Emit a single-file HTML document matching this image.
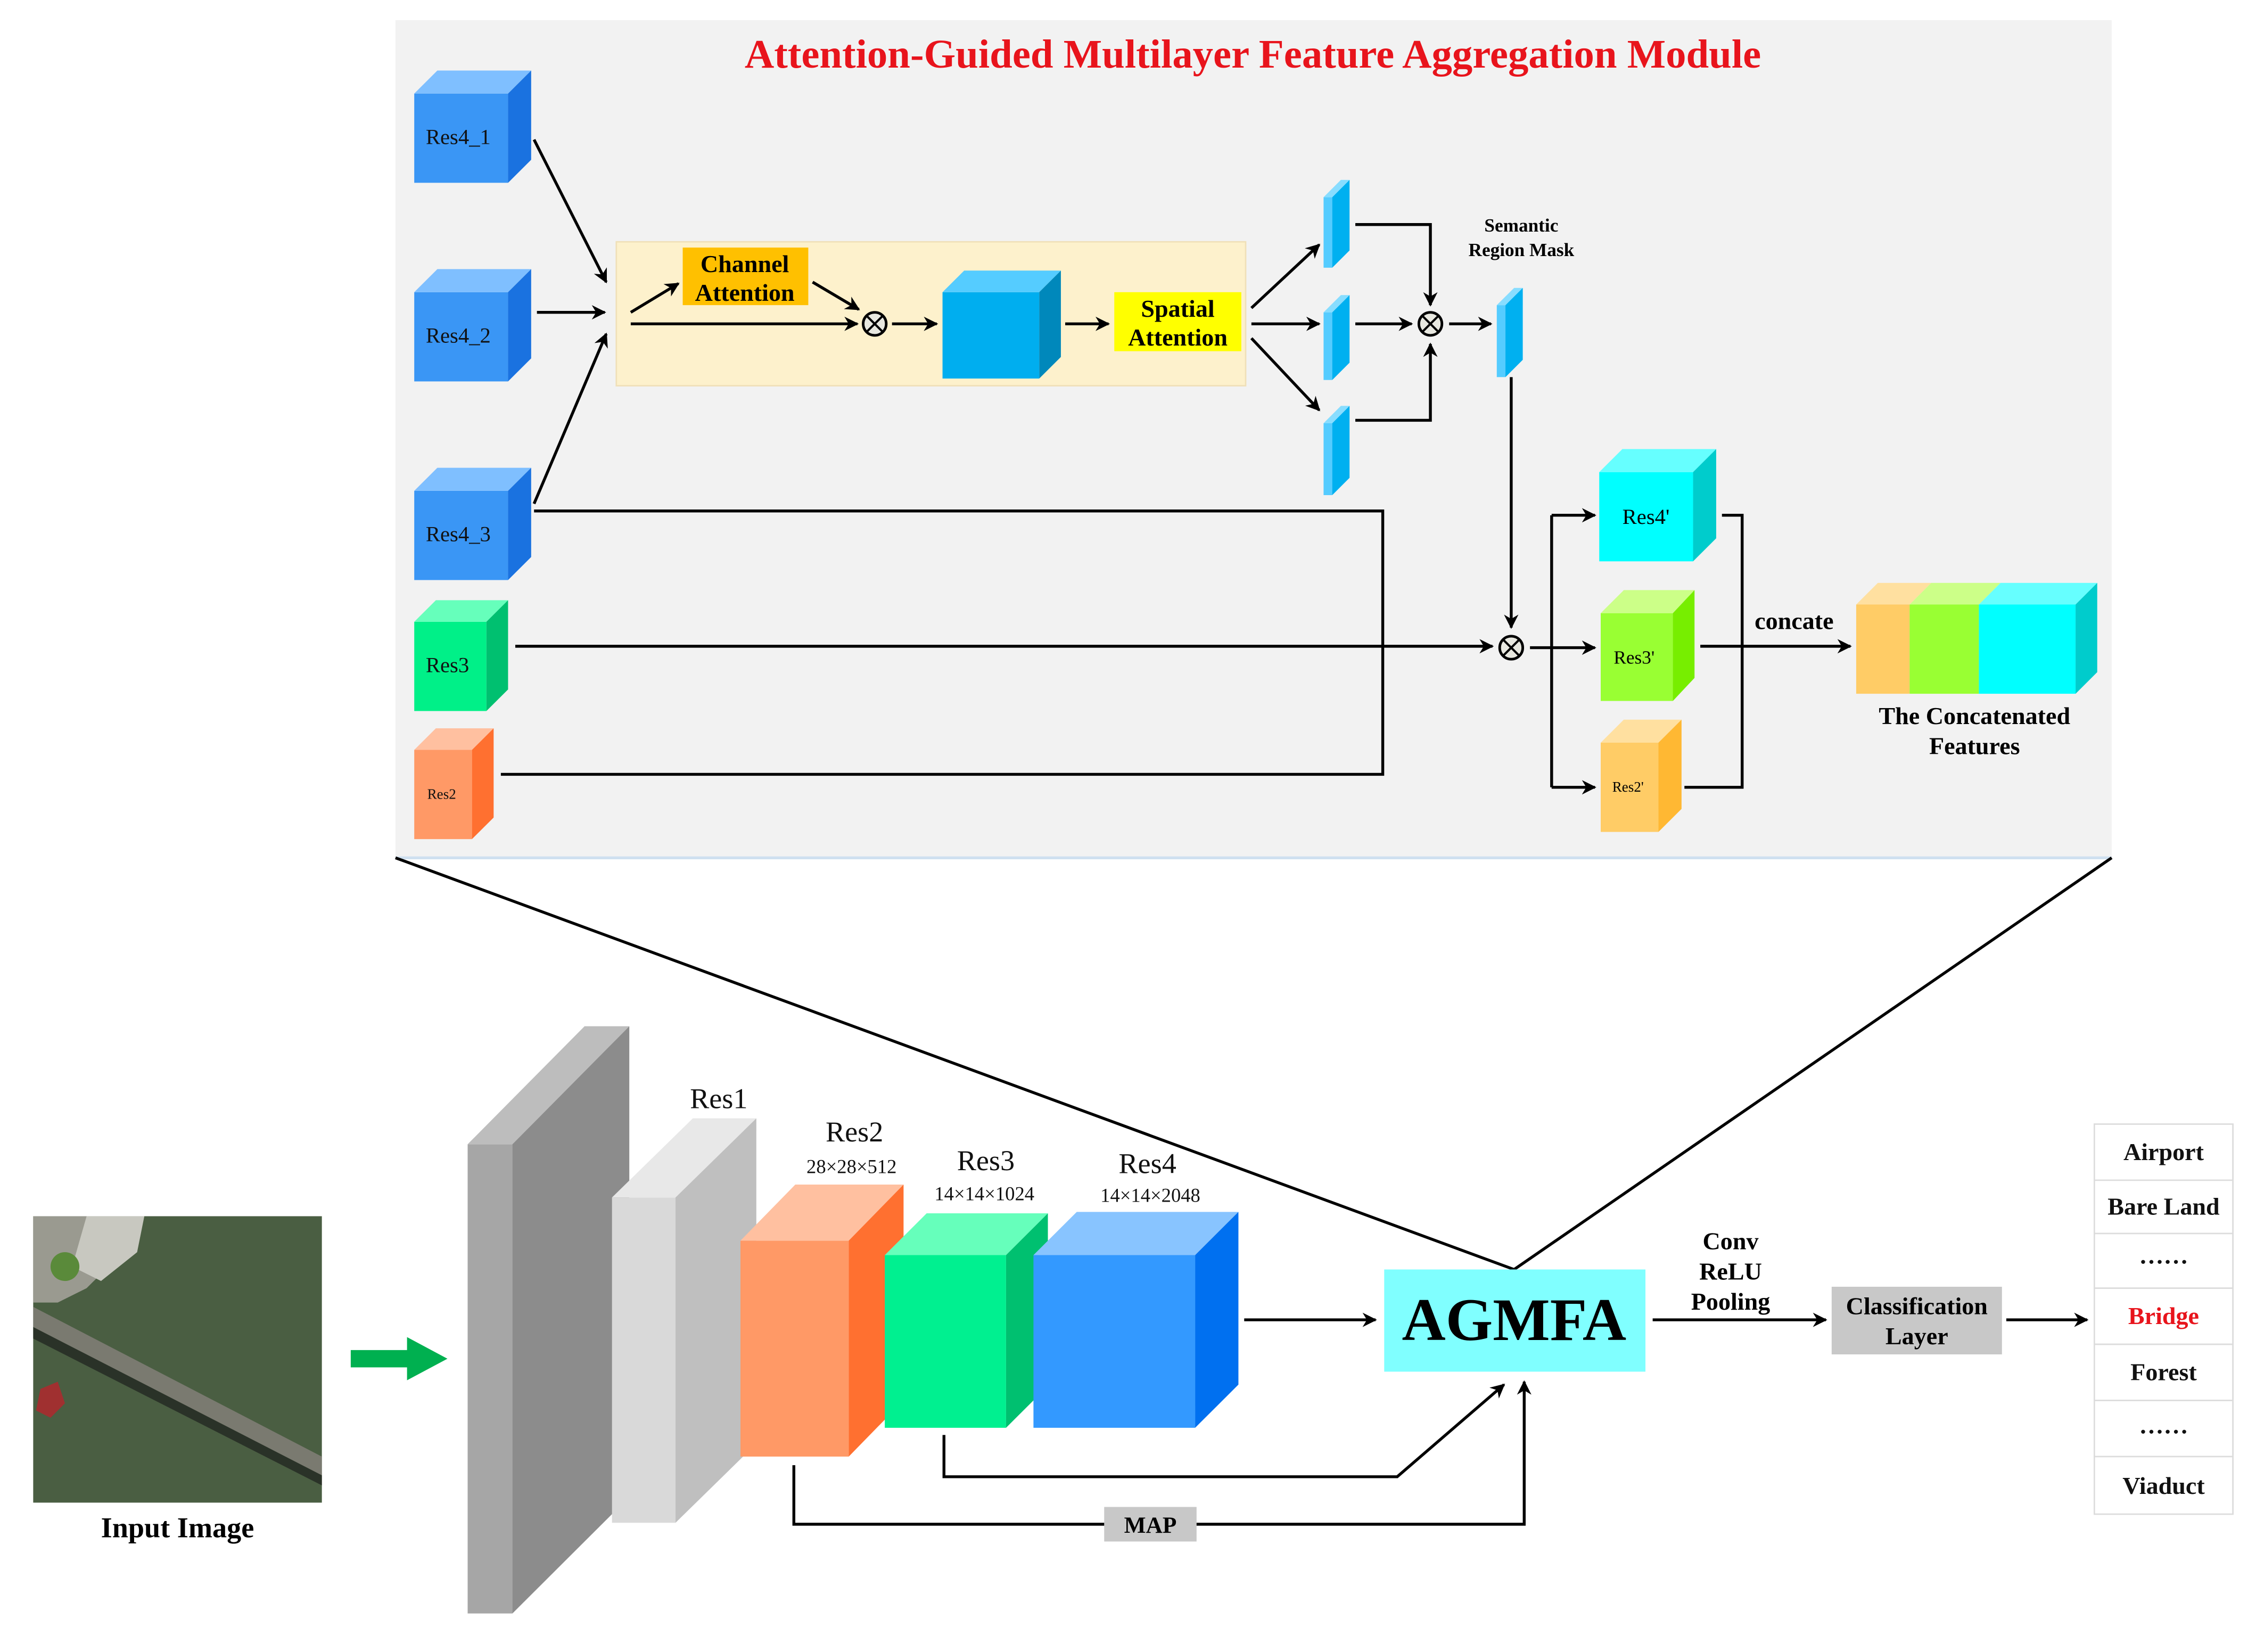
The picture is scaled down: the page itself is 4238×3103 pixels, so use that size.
<!DOCTYPE html>
<html><head><meta charset="utf-8"><style>html,body{margin:0;padding:0;background:#fff}svg{display:block}</style></head>
<body>
<svg width="4238" height="3103" viewBox="0 0 1563 1134" preserveAspectRatio="none" xmlns="http://www.w3.org/2000/svg" font-family="'Liberation Serif', serif">
<defs>
<marker id="a" viewBox="0 0 10 10" refX="9" refY="5" markerWidth="5" markerHeight="5" orient="auto" markerUnits="strokeWidth"><path d="M0,0 L10,5 L0,10 L3,5 z" fill="#000"/></marker>
</defs>
<rect x="0" y="0" width="1563" height="1134" fill="#fff"/>
<g transform="scale(1,0.988)">
<!-- top panel -->
<rect x="274" y="14" width="1189" height="582" fill="#f2f2f2"/>
<line x1="274" y1="596" x2="1463" y2="596" stroke="#cfe0f0" stroke-width="2"/>
<text x="868" y="47" font-size="28.3" font-weight="bold" fill="#e8141c" text-anchor="middle">Attention-Guided Multilayer Feature Aggregation Module</text>

<g>
<rect x="287" y="65" width="65" height="62" fill="#3a96f5"/><polygon points="287,65 303,49 368,49 352,65" fill="#7fbfff"/><polygon points="352,65 368,49 368,111 352,127" fill="#1a72e0"/>
<rect x="287" y="203" width="65" height="62" fill="#3a96f5"/><polygon points="287,203 303,187 368,187 352,203" fill="#7fbfff"/><polygon points="352,203 368,187 368,249 352,265" fill="#1a72e0"/>
<rect x="287" y="341" width="65" height="62" fill="#3a96f5"/><polygon points="287,341 303,325 368,325 352,341" fill="#7fbfff"/><polygon points="352,341 368,325 368,387 352,403" fill="#1a72e0"/>
<rect x="287" y="432" width="50" height="62" fill="#00f088"/><polygon points="287,432 302,417 352,417 337,432" fill="#66ffbb"/><polygon points="337,432 352,417 352,479 337,494" fill="#00c070"/>
<rect x="287" y="521" width="40" height="62" fill="#ff9966"/><polygon points="287,521 302,506 342,506 327,521" fill="#ffc0a0"/><polygon points="327,521 342,506 342,568 327,583" fill="#ff7030"/>
</g>
<g font-size="15" fill="#111">
<text x="295" y="100">Res4_1</text><text x="295" y="238">Res4_2</text><text x="295" y="376">Res4_3</text>
<text x="295" y="467">Res3</text><text x="296" y="555" font-size="10">Res2</text>
</g>

<rect x="427" y="168" width="436" height="100" fill="#fdf1cc" stroke="#f0e0b8" stroke-width="1"/>
<rect x="473" y="172" width="87" height="40" fill="#ffc000"/>
<text x="516" y="189" font-size="17" font-weight="bold" text-anchor="middle">Channel</text>
<text x="516" y="209" font-size="17" font-weight="bold" text-anchor="middle">Attention</text>
<rect x="772" y="203" width="88" height="41" fill="#ffff00"/>
<text x="816" y="220" font-size="17" font-weight="bold" text-anchor="middle">Spatial</text>
<text x="816" y="240" font-size="17" font-weight="bold" text-anchor="middle">Attention</text>
<rect x="653" y="203" width="67" height="60" fill="#00aeef"/><polygon points="653,203 668,188 735,188 720,203" fill="#55ccff"/><polygon points="720,203 735,188 735,248 720,263" fill="#0088bb"/>

<g>
<rect x="917" y="137" width="6" height="49" fill="#55ccff"/><polygon points="923,137 935,125 935,174 923,186" fill="#00b0f0"/><polygon points="917,137 929,125 935,125 923,137" fill="#88ddff"/>
<rect x="917" y="217" width="6" height="47" fill="#55ccff"/><polygon points="923,217 935,205 935,252 923,264" fill="#00b0f0"/><polygon points="917,217 929,205 935,205 923,217" fill="#88ddff"/>
<rect x="917" y="294" width="6" height="50" fill="#55ccff"/><polygon points="923,294 935,282 935,332 923,344" fill="#00b0f0"/><polygon points="917,294 929,282 935,282 923,294" fill="#88ddff"/>
<rect x="1037" y="212" width="6" height="50" fill="#55ccff"/><polygon points="1043,212 1055,200 1055,250 1043,262" fill="#00b0f0"/><polygon points="1037,212 1049,200 1055,200 1043,212" fill="#88ddff"/>
</g>
<text x="1054" y="161" font-size="13" font-weight="bold" text-anchor="middle">Semantic</text>
<text x="1054" y="178" font-size="13" font-weight="bold" text-anchor="middle">Region Mask</text>

<rect x="1108" y="328" width="65" height="62" fill="#00ffff"/><polygon points="1108,328 1124,312 1189,312 1173,328" fill="#66ffff"/><polygon points="1173,328 1189,312 1189,374 1173,390" fill="#00cccc"/>
<rect x="1109" y="426" width="50" height="61" fill="#99ff33"/><polygon points="1109,426 1125,410 1174,410 1159,426" fill="#ccff88"/><polygon points="1159,426 1174,410 1174,471 1159,487" fill="#77ee00"/>
<rect x="1109" y="516" width="40" height="62" fill="#ffcc66"/><polygon points="1109,516 1125,500 1165,500 1149,516" fill="#ffe0a0"/><polygon points="1149,516 1165,500 1165,562 1149,578" fill="#ffb833"/>
<text x="1124" y="364" font-size="15">Res4'</text>
<text x="1118" y="461" font-size="13">Res3'</text>
<text x="1117" y="550" font-size="10">Res2'</text>
<rect x="1286" y="420" width="37" height="62" fill="#ffcc66"/><rect x="1323" y="420" width="48" height="62" fill="#99ff33"/><rect x="1371" y="420" width="67" height="62" fill="#00ffff"/>
<polygon points="1286,420 1301,405 1338,405 1323,420" fill="#ffe0a0"/><polygon points="1323,420 1338,405 1386,405 1371,420" fill="#ccff88"/><polygon points="1371,420 1386,405 1453,405 1438,420" fill="#66ffff"/>
<polygon points="1438,420 1453,405 1453,467 1438,482" fill="#00cccc"/>
<text x="1243" y="437" font-size="17" font-weight="bold" text-anchor="middle">concate</text>
<text x="1368" y="503" font-size="17" font-weight="bold" text-anchor="middle">The Concatenated</text>
<text x="1368" y="524" font-size="17" font-weight="bold" text-anchor="middle">Features</text>

<g stroke="#000" stroke-width="2" fill="none">
<line x1="370" y1="97" x2="420" y2="196" marker-end="url(#a)"/>
<line x1="372" y1="217" x2="419" y2="217" marker-end="url(#a)"/>
<line x1="370" y1="350" x2="420" y2="232" marker-end="url(#a)"/>
<line x1="437" y1="217" x2="470" y2="197" marker-end="url(#a)"/>
<line x1="437" y1="225" x2="594" y2="225" marker-end="url(#a)"/>
<line x1="563" y1="196" x2="595" y2="215" marker-end="url(#a)"/>
<line x1="618" y1="225" x2="649" y2="225" marker-end="url(#a)"/>
<line x1="738" y1="225" x2="768" y2="225" marker-end="url(#a)"/>
<line x1="867" y1="214" x2="914" y2="170" marker-end="url(#a)"/>
<line x1="867" y1="225" x2="914" y2="225" marker-end="url(#a)"/>
<line x1="867" y1="235" x2="914" y2="285" marker-end="url(#a)"/>
<polyline points="939,156 991,156 991,212" marker-end="url(#a)"/>
<line x1="939" y1="225" x2="978" y2="225" marker-end="url(#a)"/>
<polyline points="939,292 991,292 991,239" marker-end="url(#a)"/>
<line x1="1004" y1="225" x2="1033" y2="225" marker-end="url(#a)"/>
<line x1="1047" y1="262" x2="1047" y2="436" marker-end="url(#a)"/>
<polyline points="370,355 958,355 958,538 347,538"/>
<line x1="357" y1="449" x2="1034" y2="449" marker-end="url(#a)"/>
<line x1="1060" y1="450" x2="1105" y2="450" marker-end="url(#a)"/>
<line x1="1075" y1="358" x2="1075" y2="547"/>
<line x1="1075" y1="358" x2="1105" y2="358" marker-end="url(#a)"/>
<line x1="1075" y1="547" x2="1105" y2="547" marker-end="url(#a)"/>
<polyline points="1193,358 1207,358 1207,547 1167,547"/>
<line x1="1178" y1="449" x2="1282" y2="449" marker-end="url(#a)"/>
</g>
<g stroke="#000" stroke-width="1.8" fill="#e8e8e0">
<circle cx="606" cy="225" r="8"/><circle cx="991" cy="225" r="8"/><circle cx="1047" cy="450" r="8"/>
</g>
<g stroke="#000" stroke-width="1.5">
<path d="M600.5,219.5 L611.5,230.5 M611.5,219.5 L600.5,230.5"/>
<path d="M985.5,219.5 L996.5,230.5 M996.5,219.5 L985.5,230.5"/>
<path d="M1041.5,444.5 L1052.5,455.5 M1052.5,444.5 L1041.5,455.5"/>
</g>

<g stroke="#000" stroke-width="2">
<line x1="274" y1="596" x2="1049" y2="882"/>
<line x1="1463" y1="596" x2="1049" y2="882"/>
</g>

<rect x="23" y="845" width="200" height="199" fill="#4a5e42"/>
<polygon points="23,845 90,845 75,880 60,895 40,905 23,905" fill="#9a9a90"/>
<polygon points="60,845 100,845 95,870 70,890 50,880" fill="#c8c8c0"/>
<circle cx="45" cy="880" r="10" fill="#5a8a3a"/>
<polygon points="23,908 223,1012 223,1025 23,922" fill="#7a7a70"/>
<polygon points="23,922 223,1025 223,1032 23,930" fill="#2a3228"/>
<polygon points="28,965 40,960 45,975 35,985 25,980" fill="#a03030"/>
<text x="123" y="1068" font-size="20" font-weight="bold" text-anchor="middle">Input Image</text>
<polygon points="243,938 282,938 282,929 310,944 282,959 282,950 243,950" fill="#00b050"/>

<rect x="324" y="795" width="31" height="326" fill="#a6a6a6"/>
<polygon points="324,795 405,713 436,713 355,795" fill="#bdbdbd"/>
<polygon points="355,795 436,713 436,1040 355,1121" fill="#8c8c8c"/>
<rect x="424" y="832" width="44" height="226" fill="#d9d9d9"/>
<polygon points="424,832 480,777 524,777 468,832" fill="#e8e8e8"/>
<polygon points="468,832 524,777 524,1003 468,1058" fill="#bfbfbf"/>
<rect x="513" y="862" width="75" height="150" fill="#ff9966"/>
<polygon points="513,862 551,823 626,823 588,862" fill="#ffc0a0"/>
<polygon points="588,862 626,823 626,973 588,1012" fill="#ff7030"/>
<rect x="613" y="872" width="84" height="120" fill="#00f090"/>
<polygon points="613,872 642,843 726,843 697,872" fill="#66ffbb"/>
<polygon points="697,872 726,843 726,963 697,992" fill="#00c070"/>
<rect x="716" y="872" width="112" height="120" fill="#3399ff"/>
<polygon points="716,872 746,842 858,842 828,872" fill="#88c4ff"/>
<polygon points="828,872 858,842 858,962 828,992" fill="#0070f0"/>
<g font-size="20" text-anchor="middle" fill="#111">
<text x="498" y="770">Res1</text>
<text x="592" y="793">Res2</text>
<text x="683" y="813">Res3</text>
<text x="795" y="815">Res4</text>
</g>
<g font-size="13.5" text-anchor="middle" fill="#111">
<text x="590" y="815">28×28×512</text>
<text x="682" y="834">14×14×1024</text>
<text x="797" y="835">14×14×2048</text>
</g>

<rect x="959" y="882" width="181" height="71" fill="#80ffff"/>
<text x="1049" y="931" font-size="42" font-weight="bold" text-anchor="middle">AGMFA</text>
<text x="1199" y="868" font-size="17" font-weight="bold" text-anchor="middle">Conv</text>
<text x="1199" y="889" font-size="17" font-weight="bold" text-anchor="middle">ReLU</text>
<text x="1199" y="910" font-size="17" font-weight="bold" text-anchor="middle">Pooling</text>
<rect x="1269" y="894" width="118" height="47" fill="#c8c8c8"/>
<text x="1328" y="913" font-size="17" font-weight="bold" text-anchor="middle">Classification</text>
<text x="1328" y="934" font-size="17" font-weight="bold" text-anchor="middle">Layer</text>
<rect x="765" y="1047" width="64" height="24" fill="#c8c8c8"/>
<text x="797" y="1065" font-size="16" font-weight="bold" text-anchor="middle">MAP</text>

<g stroke="#000" stroke-width="2" fill="none">
<line x1="862" y1="917" x2="953" y2="917" marker-end="url(#a)"/>
<line x1="1145" y1="917" x2="1265" y2="917" marker-end="url(#a)"/>
<line x1="1390" y1="917" x2="1446" y2="917" marker-end="url(#a)"/>
<polyline points="654,997 654,1026 968,1026 1042,962" marker-end="url(#a)"/>
<polyline points="550,1018 550,1059 765,1059"/>
<polyline points="829,1059 1056,1059 1056,960" marker-end="url(#a)"/>
</g>

<g fill="#fff" stroke="#dcdcdc" stroke-width="1">
<rect x="1451" y="781" width="96" height="39"/><rect x="1451" y="820" width="96" height="37"/>
<rect x="1451" y="857" width="96" height="38"/><rect x="1451" y="895" width="96" height="39"/>
<rect x="1451" y="934" width="96" height="39"/><rect x="1451" y="973" width="96" height="39"/>
<rect x="1451" y="1012" width="96" height="40"/>
</g>
<g font-size="17" font-weight="bold" text-anchor="middle" fill="#111">
<text x="1499" y="806">Airport</text>
<text x="1499" y="844">Bare Land</text>
<text x="1499" y="878">……</text>
<text x="1499" y="920" fill="#e8141c">Bridge</text>
<text x="1499" y="959">Forest</text>
<text x="1499" y="996">……</text>
<text x="1499" y="1038">Viaduct</text>
</g>
</g>
</svg>
</body></html>
